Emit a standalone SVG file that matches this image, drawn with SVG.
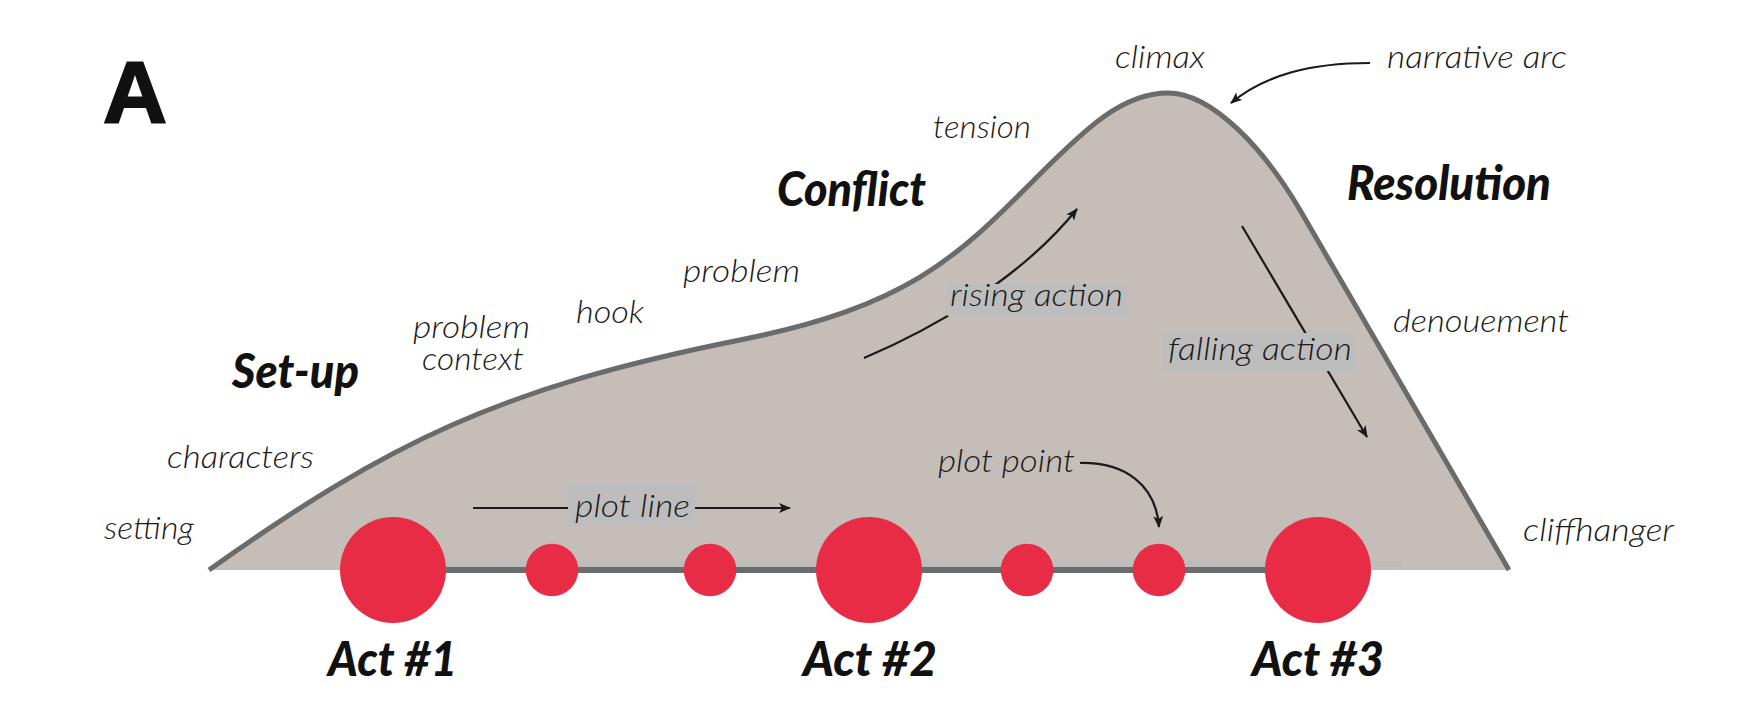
<svg xmlns="http://www.w3.org/2000/svg" width="1761" height="722" viewBox="0 0 1761 722">
<defs>
<marker id="ah" viewBox="0 0 12 10" refX="11" refY="5" markerWidth="12" markerHeight="10" markerUnits="userSpaceOnUse" orient="auto">
<path d="M0,0 L12,5 L0,10 L3,5 Z" fill="#1a1a1a"/>
</marker>
<path id="arcline" d="M209,570 C389,442 500,388 740,340 C910,306 957,257 1037,177 C1087,127 1123,93 1168,93 C1213,93 1265,150.5 1300,210 L1509,570"/>
<style>
.lt{font-family:Lato,"Open Sans","Liberation Sans",sans-serif;font-weight:300;font-style:italic;font-size:32px;fill:#1a1a1a}
.bd{font-family:Lato,"Liberation Sans",sans-serif;font-weight:900;font-style:italic;font-size:48px;fill:#111}
.hl{fill:#bdbdbd}
.act{fill:#e92c45}
.con{fill:none;stroke:#1a1a1a;stroke-width:2.2;marker-end:url(#ah)}
</style>
</defs>
<rect width="1761" height="722" fill="#ffffff"/>

<g id="panel-label">
<text x="103" y="122" font-family="'Liberation Sans',Arial,sans-serif" font-weight="700" font-size="88" textLength="64" lengthAdjust="spacingAndGlyphs" fill="#111" stroke="#111" stroke-width="2">A</text>
</g>

<g id="arc">
<use href="#arcline" fill="#c5bdb8"/>
<rect x="395" y="561" width="1007" height="6" fill="#bcbcbc"/>
<use href="#arcline" fill="none" stroke="#6b6b6b" stroke-width="5"/>
<line x1="393" y1="570" x2="1318" y2="570" stroke="#6b6b6b" stroke-width="6"/>
</g>

<g id="connectors">
<path class="con" d="M1370,63 C1310,63 1265,75 1231,103"/>
<path class="con" d="M864,358 C930,330 1020,280 1077,209"/>
<path class="con" d="M1242,226 L1367,437"/>
<path class="con" d="M473,508 L790,508"/>
<path class="con" d="M1080,463 C1125,462 1156,485 1159,527"/>
</g>

<g id="act-points">
<circle id="act1" class="act" cx="393" cy="570" r="53"/>
<circle id="pt1" class="act" cx="552" cy="570" r="26.3"/>
<circle id="pt2" class="act" cx="710" cy="570" r="26.3"/>
<circle id="act2" class="act" cx="869" cy="570" r="53"/>
<circle id="pt3" class="act" cx="1027" cy="570" r="26.3"/>
<circle id="pt4" class="act" cx="1159" cy="570" r="26.3"/>
<circle id="act3" class="act" cx="1318" cy="570" r="53"/>
</g>

<g id="label-rising-action">
<rect class="hl" x="946" y="284" width="181" height="33" rx="5"/>
<text class="lt" x="950" y="306" textLength="173" lengthAdjust="spacingAndGlyphs">rising action</text>
</g>
<g id="label-falling-action">
<rect class="hl" x="1163" y="333" width="191" height="38" rx="5"/>
<text class="lt" x="1168" y="360" textLength="184" lengthAdjust="spacingAndGlyphs">falling action</text>
</g>
<g id="label-plot-line">
<rect class="hl" x="568" y="484" width="127" height="42" rx="5"/>
<text class="lt" x="575" y="517" textLength="115" lengthAdjust="spacingAndGlyphs">plot line</text>
</g>
<g id="label-plot-point">
<text class="lt" x="938" y="472" textLength="137" lengthAdjust="spacingAndGlyphs">plot point</text>
</g>

<g id="labels">
<text class="lt" x="104" y="539" textLength="90" lengthAdjust="spacingAndGlyphs">setting</text>
<text class="lt" x="167" y="468" textLength="147" lengthAdjust="spacingAndGlyphs">characters</text>
<text class="lt" x="413" y="338" font-size="28" textLength="117" lengthAdjust="spacingAndGlyphs">problem</text>
<text class="lt" x="422" y="370" font-size="28" textLength="102" lengthAdjust="spacingAndGlyphs">context</text>
<text class="lt" x="576" y="323" textLength="68" lengthAdjust="spacingAndGlyphs">hook</text>
<text class="lt" x="683" y="282" textLength="117" lengthAdjust="spacingAndGlyphs">problem</text>
<text class="lt" x="933" y="138" textLength="98" lengthAdjust="spacingAndGlyphs">tension</text>
<text class="lt" x="1115" y="68" textLength="90" lengthAdjust="spacingAndGlyphs">climax</text>
<text class="lt" x="1387" y="68" textLength="180" lengthAdjust="spacingAndGlyphs">narrative arc</text>
<text class="lt" x="1393" y="332" textLength="176" lengthAdjust="spacingAndGlyphs">denouement</text>
<text class="lt" x="1523" y="541" textLength="151" lengthAdjust="spacingAndGlyphs">cliffhanger</text>
</g>

<g id="section-labels">
<text class="bd" x="232" y="388" textLength="127" lengthAdjust="spacingAndGlyphs">Set-up</text>
<text class="bd" x="777" y="206" textLength="149" lengthAdjust="spacingAndGlyphs">Conflict</text>
<text class="bd" x="1347" y="200" font-size="51" textLength="204" lengthAdjust="spacingAndGlyphs">Resolution</text>
</g>

<g id="act-labels">
<text class="bd" x="328" y="676" font-size="50" textLength="129" lengthAdjust="spacingAndGlyphs">Act #1</text>
<text class="bd" x="803" y="676" font-size="50" textLength="134" lengthAdjust="spacingAndGlyphs">Act #2</text>
<text class="bd" x="1252" y="676" font-size="50" textLength="132" lengthAdjust="spacingAndGlyphs">Act #3</text>
</g>
</svg>
